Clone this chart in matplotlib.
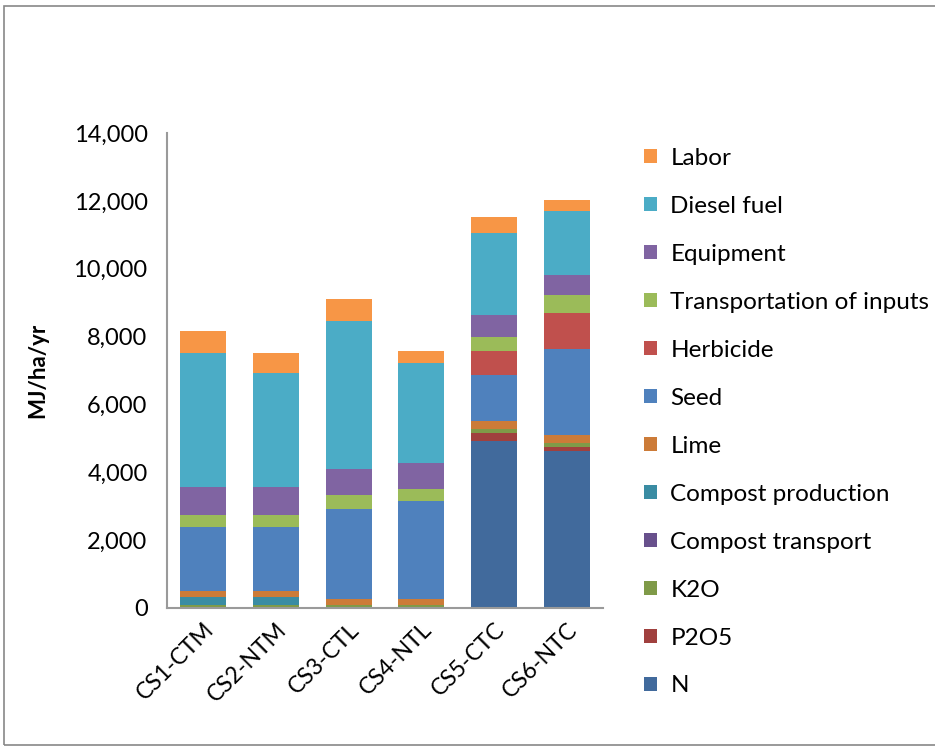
import numpy as np
import matplotlib.pyplot as plt
from matplotlib.patches import Rectangle

plt.rcParams['font.family'] = ['Lato', 'DejaVu Sans']

systems = ["CS1-CTM", "CS2-NTM", "CS3-CTL", "CS4-NTL", "CS5-CTC", "CS6-NTC"]

# stacked from bottom to top (MJ/ha/yr)
n_fert = [0, 0, 0, 0, 4920, 4630]
p2o5 = [0, 0, 0, 0, 236, 118]
k2o = [90, 90, 90, 90, 118, 118]
compost_transport = [10, 10, 0, 0, 0, 0]
compost_production = [226, 226, 0, 0, 0, 0]
lime = [187, 187, 177, 177, 236, 236]
seed = [1886, 1886, 2653, 2889, 1356, 2535]
herbicide = [0, 0, 0, 0, 707, 1061]
transport_inputs = [354, 354, 413, 354, 413, 531]
equipment = [825, 825, 766, 766, 648, 590]
diesel = [3950, 3360, 4362, 2947, 2417, 1886]
labor = [648, 590, 648, 354, 472, 324]

series = [
    ("N", n_fert, "#416A9C"),
    ("P2O5", p2o5, "#A0403E"),
    ("K2O", k2o, "#7F9A48"),
    ("Compost transport", compost_transport, "#68508C"),
    ("Compost production", compost_production, "#3A8CA3"),
    ("Lime", lime, "#CC7B38"),
    ("Seed", seed, "#4F81BD"),
    ("Herbicide", herbicide, "#C0504D"),
    ("Transportation of inputs", transport_inputs, "#9BBB59"),
    ("Equipment", equipment, "#8064A2"),
    ("Diesel fuel", diesel, "#4BACC6"),
    ("Labor", labor, "#F79646"),
]

fig = plt.figure(figsize=(9.35, 7.49), dpi=100)
ax = fig.add_axes([167 / 935, 1 - 608 / 749, 436 / 935, 475 / 749])

x = np.arange(len(systems))
bottom = np.zeros(len(systems))
handles = []
for name, vals, color in series:
    vals = np.array(vals, dtype=float)
    b = ax.bar(x, vals, width=0.63, bottom=bottom, color=color, label=name, linewidth=0)
    handles.append(b)
    bottom += vals

ax.set_xlim(-0.5, len(systems) - 0.5)
ax.set_ylim(0, 14000)
ax.set_yticks(np.arange(0, 14001, 2000))
ax.set_yticklabels([f"{v:,}" for v in range(0, 14001, 2000)], fontsize=17)
ax.set_xticks(x)
ax.set_xticklabels(systems, fontsize=16.5, rotation=45, ha="right", rotation_mode="anchor")
ax.tick_params(axis="both", length=0)
ax.tick_params(axis="y", pad=14)
ax.tick_params(axis="x", pad=8)
for side in ["top", "right"]:
    ax.spines[side].set_visible(False)
for side in ["left", "bottom"]:
    ax.spines[side].set_color("#9A9A9A")
    ax.spines[side].set_linewidth(1.5)

ax.set_ylabel("MJ/ha/yr", fontsize=16, fontweight="bold", labelpad=18)

fig.legend(handles[::-1], [s[0] for s in series][::-1], loc="upper left",
           bbox_to_anchor=(634 / 935, 1 - 138 / 749), frameon=False, fontsize=17.5,
           handlelength=0.55, handleheight=0.55, handletextpad=0.55, labelspacing=1.11,
           borderaxespad=0)

fig.patches.append(Rectangle((4 / 935, 4 / 749), 1.0, 1 - 10 / 749, transform=fig.transFigure,
                             fill=False, edgecolor="#888888", linewidth=1.2))

fig.savefig("out.png", dpi=100)
